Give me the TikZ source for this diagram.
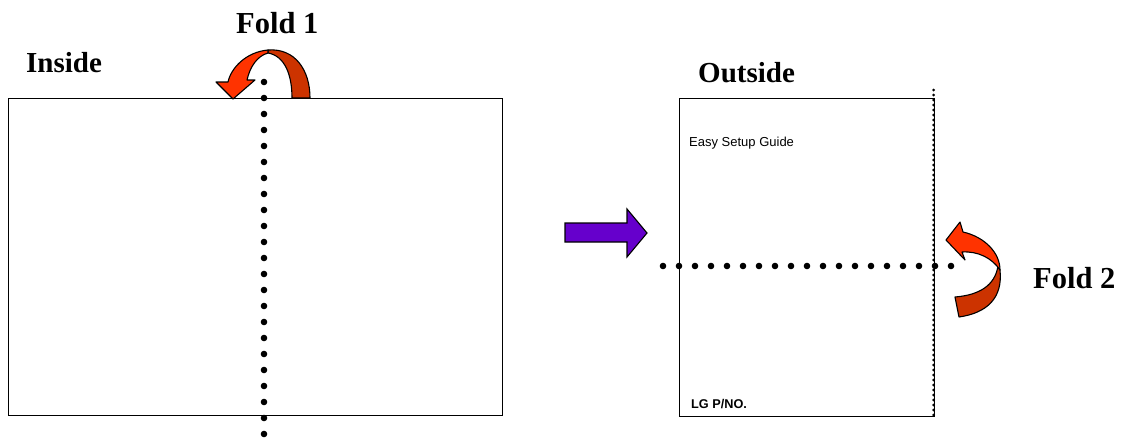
\documentclass[tikz,border=0pt]{standalone}
\usepackage{fontspec}
\setmainfont{Liberation Serif}
\newfontfamily\arialf{Liberation Sans}
\begin{document}
\begin{tikzpicture}[x=1pt,y=-1pt,
  sheet/.style={draw=black,line width=1.2pt,fill=white,inner sep=0pt,anchor=north west},
  biglabel/.style={font=\fontsize{29}{34}\selectfont\bfseries,inner sep=0pt,anchor=base west},
  foldlabel/.style={font=\fontsize{30.5}{35}\selectfont\bfseries,inner sep=0pt,anchor=base west},
  smalltext/.style={font=\arialf\fontsize{13}{15}\selectfont,inner sep=0pt,anchor=base west},
  bigdot/.style={fill=black},
  frontred/.style={fill={rgb,255:red,255;green,51;blue,0},draw=black,line width=1.1pt,line join=round},
  backred/.style={fill={rgb,255:red,204;green,51;blue,0},draw=black,line width=1.1pt,line join=round},
  purplearrow/.style={fill={rgb,255:red,102;green,0;blue,204},draw=black,line width=1.1pt}]
\useasboundingbox (0,0) rectangle (1125,439);
% sheets
\node[sheet,minimum width=494pt,minimum height=317pt] (inside) at (8,98) {};
\node[sheet,minimum width=255pt,minimum height=318pt] (outside) at (679,98) {};
% labels
\node[biglabel] (lin) at (26,72) {Inside};
\node[biglabel] (lout) at (698,82) {Outside};
\node[foldlabel] (lf1) at (236,34) {Fold 1};
\node[foldlabel] (lf2) at (1033,288) {Fold 2};
\node[smalltext] (esg) at (689,146) {Easy Setup Guide};
\node[smalltext,font=\arialf\fontsize{12.7}{15}\selectfont\bfseries] (lgp) at (691,408) {LG P/NO.};
% Fold 1 arrow
\path[backred] (268,50) .. controls (295,48) and (310,70) .. (310,98) -- (292,98)
  .. controls (292,75) and (285,56) .. (268,53) -- cycle;
\path[frontred] (268,50) .. controls (246,52) and (231,68) .. (228,82) -- (216,82) -- (233,99)
  -- (255,80) -- (247,80) .. controls (250,67) and (257,56) .. (268,53) -- cycle;
% vertical fold line (Fold 1)
\foreach \k in {0,...,22} \fill[bigdot] (264,82+16*\k) circle (3.3);
% horizontal fold line (Fold 2)
\foreach \k in {0,...,18} \fill[bigdot] (663+16*\k,266) circle (3.3);
% dotted right edge
\foreach \k in {0,...,65} \fill[bigdot] (933.5,90+5*\k) circle (1.5);
% Fold 2 arrow
\path[backred] (998,266) .. controls (995,285) and (980,295) .. (955,297) -- (959,317)
  .. controls (987,313) and (1003,298) .. (1000,270) -- cycle;
\path[frontred] (946,240) -- (960,222) -- (963,232) .. controls (985,237) and (1000,253) .. (1000,270)
  .. controls (992,258) and (978,251) .. (962,252) -- (965,260) -- cycle;
% purple arrow
\path[purplearrow] (565,223) -- (627,223) -- (627,209) -- (647,233) -- (627,257) -- (627,242) -- (565,242) -- cycle;
\end{tikzpicture}
\end{document}
